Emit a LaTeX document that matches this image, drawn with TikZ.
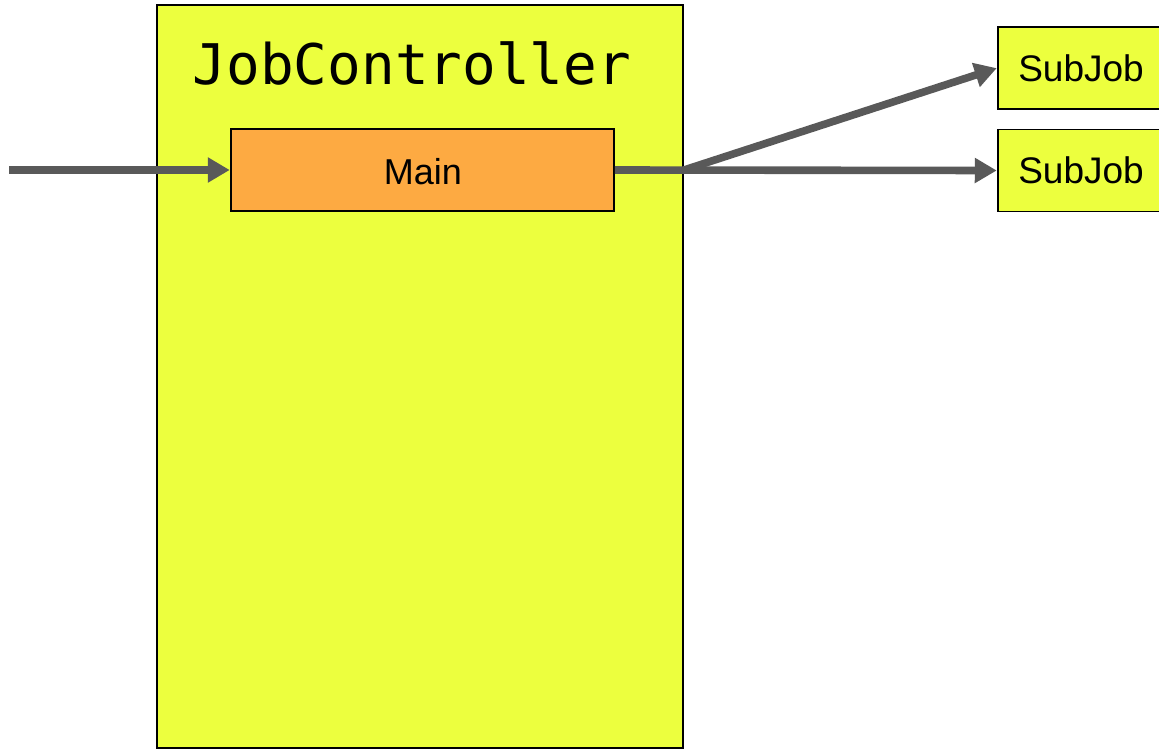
\documentclass[tikz,border=0pt]{standalone}
\usepackage{fontspec}
\setmainfont{Liberation Sans}
\newfontfamily\codefont{DejaVu Sans Mono}
\usetikzlibrary{arrows.meta}
\definecolor{boxyellow}{RGB}{236,255,62}
\definecolor{boxorange}{RGB}{253,170,66}
\definecolor{flowgray}{RGB}{89,89,89}
\tikzset{
  ybox/.style={draw=black, line width=1.5pt, fill=boxyellow, inner sep=0pt},
  obox/.style={draw=black, line width=1.5pt, fill=boxorange, inner sep=0pt},
  flow/.style={draw=flowgray, line width=7.6pt, -{Triangle[length=22pt,width=24pt]}, shorten >=0.5pt},
  lbl/.style={font=\fontsize{37}{40}\selectfont}
}
\begin{document}
\begin{tikzpicture}[x=1pt,y=-1pt]
\useasboundingbox (0,0) rectangle (1159,750);
\clip (0,0) rectangle (1159,750);
% controller container
\node[ybox, minimum width=526pt, minimum height=743pt] (jc) at (420,376.5) {};
\node[font=\codefont\fontsize{56}{60}\selectfont] (title) at (412,63) {JobController};
% main step inside the controller
\node[obox, minimum width=383pt, minimum height=82pt] (main) at (422.5,170) {};
\node[font=\fontsize{36}{40}\selectfont] (mainlbl) at (423,172) {Main};
% sub jobs
\node[ybox, minimum width=166pt, minimum height=82pt, lbl] (sub1) at (1081,68) {SubJob};
\node[ybox, minimum width=166pt, minimum height=82pt, lbl] (sub2) at (1081,170.5) {SubJob};
% connectors
\coordinate (in) at (9,170);
\coordinate (fork) at (684,170);
\draw[flow] (in) -- (main.west);
\draw[flow] (main.east) -- (sub2.west);
\draw[flow] (fork) -- (sub1.west);
\end{tikzpicture}
\end{document}
